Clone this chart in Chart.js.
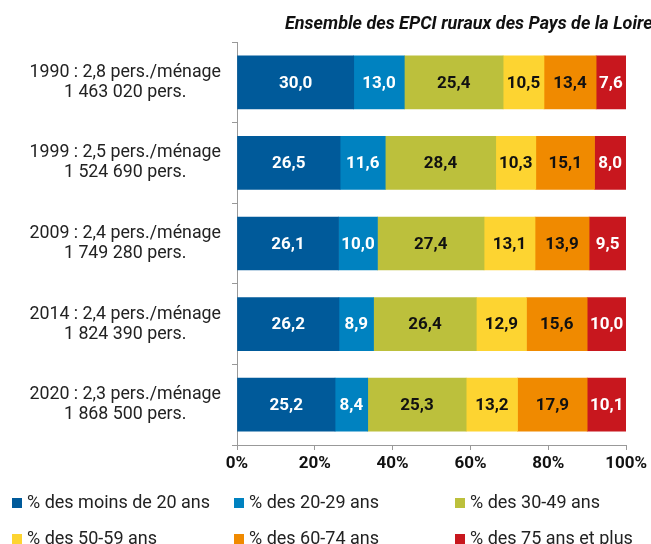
<!DOCTYPE html>
<html>
<head>
<meta charset="utf-8">
<script src="https://cdn.jsdelivr.net/npm/chart.js@4"></script>
<style>
  body { margin: 0; background: #fff; font-family: Roboto, sans-serif; }
  #wrap { position: relative; width: 651px; height: 544px; overflow: hidden; }
  #title { position: absolute; left: 285px; top: 12px; white-space: nowrap;
           font: italic bold 18px Roboto, sans-serif; color: #111; }
  .leg { position: absolute; font-size: 18px; color: #222; white-space: nowrap; line-height: 20px; }
  .sq { position: absolute; width: 10px; height: 10px; }
</style>
</head>
<body>
<div id="wrap">
  <canvas id="chart" width="651" height="544"></canvas>
  <div id="title">Ensemble des EPCI ruraux des Pays de la Loire</div>
  <div id="legend"></div>
</div>
<script>
// ===== DATA =====
const years = [
  ['1990 : 2,8 pers./ménage', '1 463 020 pers.'],
  ['1999 : 2,5 pers./ménage', '1 524 690 pers.'],
  ['2009 : 2,4 pers./ménage', '1 749 280 pers.'],
  ['2014 : 2,4 pers./ménage', '1 824 390 pers.'],
  ['2020 : 2,3 pers./ménage', '1 868 500 pers.']
];
const seriesNames = ['% des moins de 20 ans', '% des 20-29 ans', '% des 30-49 ans',
                     '% des 50-59 ans', '% des 60-74 ans', '% des 75 ans et plus'];
const under20 = [30.0, 26.5, 26.1, 26.2, 25.2];
const age20_29 = [13.0, 11.6, 10.0, 8.9, 8.4];
const age30_49 = [25.4, 28.4, 27.4, 26.4, 25.3];
const age50_59 = [10.5, 10.3, 13.1, 12.9, 13.2];
const age60_74 = [13.4, 15.1, 13.9, 15.6, 17.9];
const over75 = [7.6, 8.0, 9.5, 10.0, 10.1];
const xTicks = [0, 20, 40, 60, 80, 100];

const colors = ['#005a9a', '#0082c0', '#bcc03c', '#fdd431', '#f08a00', '#c8171e'];
const labelColors = ['#fff', '#fff', '#111', '#111', '#111', '#fff'];
const allSeries = [under20, age20_29, age30_49, age50_59, age60_74, over75];

// étiquettes dans les barres
const barLabels = {
  id: 'barLabels',
  afterDatasetsDraw(chart) {
    const ctx = chart.ctx;
    ctx.save();
    ctx.font = 'bold 17px Roboto, sans-serif';
    ctx.textAlign = 'center';
    ctx.textBaseline = 'middle';
    chart.data.datasets.forEach((ds, i) => {
      chart.getDatasetMeta(i).data.forEach((bar, j) => {
        const p = bar.getProps(['x', 'y', 'base']);
        ctx.fillStyle = labelColors[i];
        ctx.fillText(ds.data[j].toFixed(1).replace('.', ','), (p.x + p.base) / 2, p.y + 1);
      });
    });
    ctx.restore();
  }
};

new Chart(document.getElementById('chart'), {
  type: 'bar',
  data: {
    labels: years,
    datasets: allSeries.map((d, i) => ({
      label: seriesNames[i],
      data: d,
      backgroundColor: colors[i],
      borderWidth: 0,
      barThickness: 53
    }))
  },
  options: {
    indexAxis: 'y',
    responsive: false,
    animation: false,
    layout: { padding: { top: 42, right: 22, bottom: 64, left: 0 } },
    plugins: { legend: { display: false }, tooltip: { enabled: false } },
    scales: {
      x: {
        stacked: true,
        min: 0,
        max: 100,
        afterBuildTicks: s => { s.ticks = xTicks.map(v => ({ value: v })); },
        afterFit: s => { s.height = 35; },
        grid: { drawOnChartArea: false, tickLength: 5, color: '#999' },
        border: { color: '#999' },
        ticks: {
          callback: v => v + '%',
          color: '#111',
          padding: 4,
          maxRotation: 0,
          font: { family: 'Roboto', size: 17, weight: 'bold' }
        }
      },
      y: {
        stacked: true,
        afterFit: s => { s.width = 237; },
        grid: { drawOnChartArea: false, offset: true, tickLength: 5, color: '#999' },
        border: { color: '#999' },
        ticks: {
          crossAlign: 'center',
          padding: 11,
          color: '#222',
          font: { family: 'Roboto', size: 17.8, lineHeight: 1.12 }
        }
      }
    }
  },
  plugins: [barLabels]
});

// légende : colonnes et lignes
const legendCols = [12, 234, 455];
const legendRows = [498, 534];
const legend = document.getElementById('legend');
seriesNames.forEach((name, i) => {
  const x = legendCols[i % 3], y = legendRows[Math.floor(i / 3)];
  const sq = document.createElement('div');
  sq.className = 'sq';
  sq.style.left = x + 'px';
  sq.style.top = y + 'px';
  sq.style.background = colors[i];
  legend.appendChild(sq);
  const div = document.createElement('div');
  div.className = 'leg';
  div.style.left = (x + 15) + 'px';
  div.style.top = (y - 6) + 'px';
  div.textContent = name;
  legend.appendChild(div);
});
</script>
</body>
</html>
